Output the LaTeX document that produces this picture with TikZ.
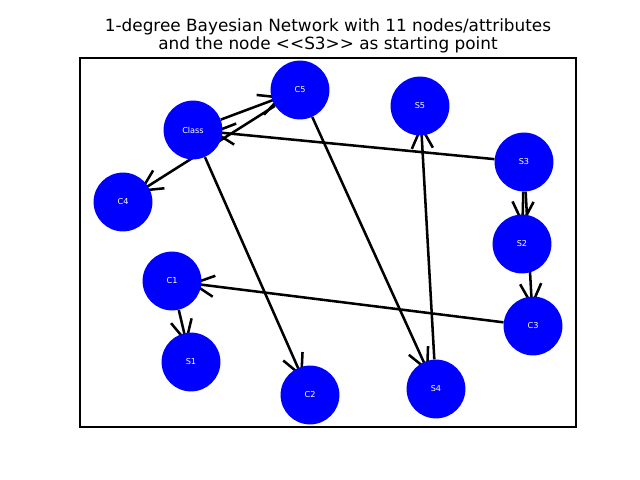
\documentclass[tikz,border=0pt]{standalone}
\usepackage{fontspec}
\setmainfont{DejaVu Sans}
\usetikzlibrary{arrows.meta,backgrounds}

\begin{document}
\begin{tikzpicture}[x=0.025cm, y=-0.025cm,
    attr/.style={circle, fill=blue, minimum size=1.47cm, inner sep=0pt,
        text=white, font=\fontsize{5.8}{6}\selectfont},
    dep/.style={-{Straight Barb[length=15pt, width=15pt]}, line width=1.8pt,
        shorten >=-8pt}]
    \useasboundingbox (0,0) rectangle (640,480);

    % Title
    \node[font=\fontsize{12}{13}\selectfont, align=center] (title) at (328,36)
        {1-degree Bayesian Network with 11 nodes/attributes\\
         and the node <\kern0pt<S3>\kern0pt> as starting point};

    % Attributes
    \node[attr] (Class) at (193,130) {Class};
    \node[attr] (C5) at (300,90) {C5};
    \node[attr] (S5) at (420,106) {S5};
    \node[attr] (S3) at (524,162) {S3};
    \node[attr] (C4) at (123,202) {C4};
    \node[attr] (S2) at (522,244) {S2};
    \node[attr] (C1) at (172,281) {C1};
    \node[attr] (C3) at (533,326) {C3};
    \node[attr] (S1) at (191,362) {S1};
    \node[attr] (C2) at (310,395) {C2};
    \node[attr] (S4) at (436,389) {S4};

    % Dependencies (below the nodes)
    \begin{scope}[on background layer]
        \draw[dep] (S3) -- (S2);
        \draw[dep] (S3) -- (C3);
        \draw[dep] (S3) -- (Class);
        \draw[dep] (Class) -- (C5);
        \draw[dep] (Class) -- (C2);
        \draw[dep] (C5) -- (C4);
        \draw[dep] (C5) -- (S4);
        \draw[dep] (S4) -- (S5);
        \draw[dep] (C3) -- (C1);
        \draw[dep] (C1) -- (S1);
    \end{scope}

    % Axes frame
    \draw[line width=0.8pt] (80,58) rectangle (576,427);
\end{tikzpicture}
\end{document}
